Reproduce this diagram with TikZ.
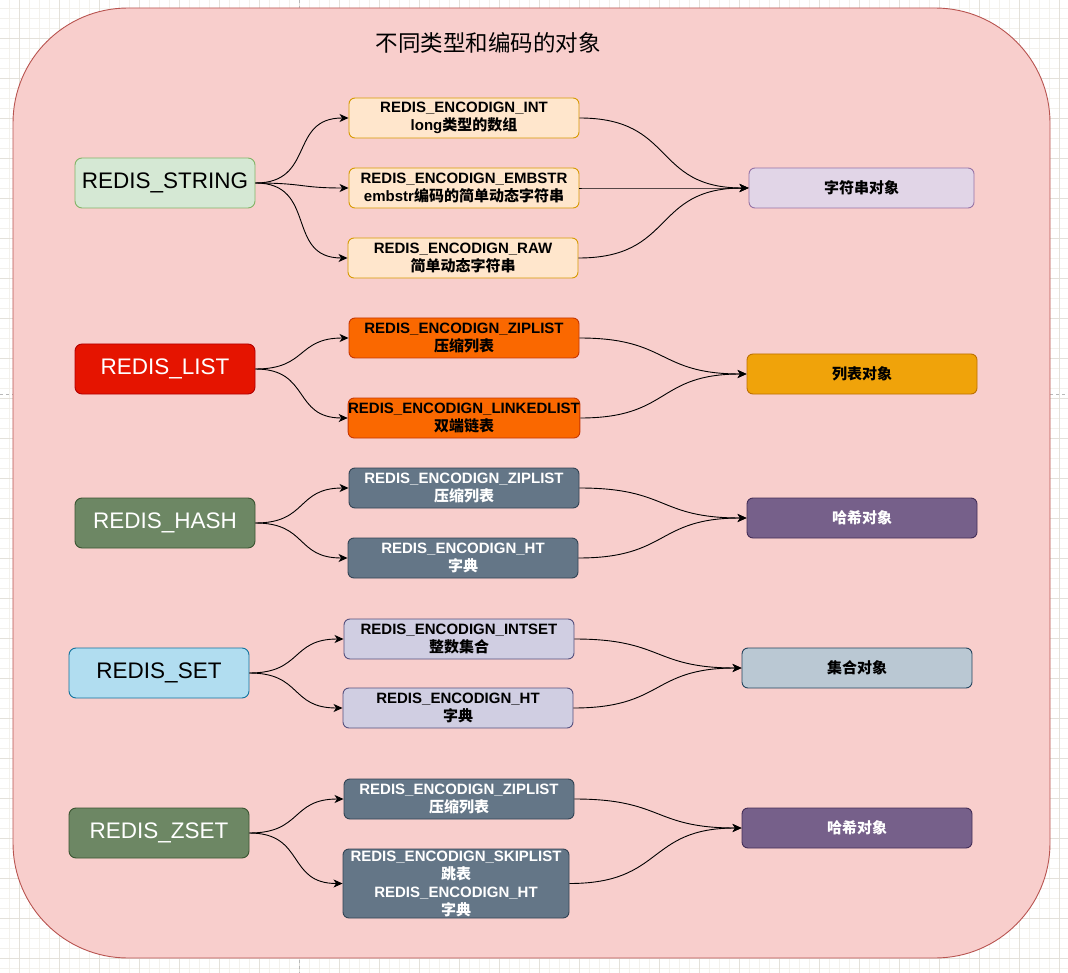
\documentclass[tikz,border=0pt]{standalone}
\usepackage{fontspec}
\setmainfont{Liberation Sans}
\newfontfamily\cjk{Noto Sans CJK SC}
\newcommand\zh[1]{{\cjk #1}}
\usetikzlibrary{arrows.meta}
\definecolor{gridminor}{HTML}{F3F1EC}
\definecolor{gridmajor}{HTML}{E4E1DA}
\definecolor{pagebrk}{HTML}{B8B8B8}
\definecolor{contfill}{HTML}{F8CECC}
\definecolor{contdraw}{HTML}{B85450}
\definecolor{grfill}{HTML}{D5E8D4}\definecolor{grdraw}{HTML}{82B366}
\definecolor{rdfill}{HTML}{E51400}\definecolor{rddraw}{HTML}{B20000}
\definecolor{olfill}{HTML}{6D8764}\definecolor{oldraw}{HTML}{3A5431}
\definecolor{blfill}{HTML}{B1DDF0}\definecolor{bldraw}{HTML}{10739E}
\definecolor{orfill}{HTML}{FFE6CC}\definecolor{ordraw}{HTML}{D79B00}
\definecolor{dofill}{HTML}{FA6800}\definecolor{dodraw}{HTML}{C73500}
\definecolor{slfill}{HTML}{647687}\definecolor{sldraw}{HTML}{314354}
\definecolor{lvfill}{HTML}{D0CEE2}\definecolor{lvdraw}{HTML}{56517E}
\definecolor{pufill}{HTML}{E1D5E7}\definecolor{pudraw}{HTML}{9673A6}
\definecolor{ambfill}{HTML}{F0A30A}\definecolor{ambdraw}{HTML}{BD7000}
\definecolor{vifill}{HTML}{76608A}\definecolor{vidraw}{HTML}{432D57}
\definecolor{gbfill}{HTML}{BAC8D3}\definecolor{gbdraw}{HTML}{23445D}
\begin{document}
\begin{tikzpicture}[x=1pt,y=-1pt,
  typebox/.style={draw, line width=0.9pt, rounded corners=7pt, minimum width=180pt, minimum height=50pt, inner sep=0pt, align=center, font=\fontsize{22.5}{27}\selectfont},
  encbox/.style={draw, line width=0.9pt, rounded corners=6pt, minimum width=230pt, minimum height=40pt, inner sep=0pt, align=center, font=\fontsize{15}{18}\selectfont\bfseries},
  objbox/.style={draw, line width=0.9pt, rounded corners=6pt, minimum width=230pt, minimum height=40pt, inner sep=0pt, align=center, font=\fontsize{15}{18}\selectfont\bfseries},
  edge/.style={draw=black, line width=0.9pt, -{Stealth[length=9pt,width=8pt,inset=2.5pt]}}
]
\useasboundingbox (0,0) rectangle (1068,973);
\fill[white] (0,0) rectangle (1068,973);
\foreach \gx in {9,19,...,1068} \draw[gridminor, line width=0.8pt] (\gx,0) -- (\gx,973);
\foreach \gy in {8,18,...,973} \draw[gridminor, line width=0.8pt] (0,\gy) -- (1068,\gy);
\foreach \gx in {19,59,...,1068} \draw[gridmajor, line width=0.8pt] (\gx,0) -- (\gx,973);
\foreach \gy in {38,78,...,973} \draw[gridmajor, line width=0.8pt] (0,\gy) -- (1068,\gy);
\draw[pagebrk, dashed, line width=0.8pt] (0,394) -- (1068,394);
\draw[pagebrk, dashed, line width=0.8pt] (299,0) -- (299,973);
% container
\draw[fill=contfill, draw=contdraw, line width=0.9pt, rounded corners=115pt] (13,8) rectangle (1050,958);
\node[font=\fontsize{22.5}{27}\selectfont\cjk, text=black] (title) at (488,43) {不同类型和编码的对象};
% left type boxes
\node[typebox, fill=grfill, draw=grdraw, text=black] (ls) at (165,183) {REDIS\_STRING};
\node[typebox, fill=rdfill, draw=rddraw, text=white] (ll) at (165,369) {REDIS\_LIST};
\node[typebox, fill=olfill, draw=oldraw, text=white] (lh) at (165,523) {REDIS\_HASH};
\node[typebox, fill=blfill, draw=bldraw, text=black] (lset) at (159,673) {REDIS\_SET};
\node[typebox, fill=olfill, draw=oldraw, text=white] (lz) at (159,833) {REDIS\_ZSET};
% encoding boxes
\node[encbox, fill=orfill, draw=ordraw, text=black] (m1) at (464,118) {REDIS\_ENCODIGN\_INT\\long\zh{类型的数组}};
\node[encbox, fill=orfill, draw=ordraw, text=black] (m2) at (464,188) {REDIS\_ENCODIGN\_EMBSTR\\embstr\zh{编码的简单动态字符串}};
\node[encbox, fill=orfill, draw=ordraw, text=black] (m3) at (463,258) {REDIS\_ENCODIGN\_RAW\\\zh{简单动态字符串}};
\node[encbox, fill=dofill, draw=dodraw, text=black] (m4) at (464,338) {REDIS\_ENCODIGN\_ZIPLIST\\\zh{压缩列表}};
\node[encbox, fill=dofill, draw=dodraw, text=black] (m5) at (464,418) {REDIS\_ENCODIGN\_LINKEDLIST\\\zh{双端链表}};
\node[encbox, fill=slfill, draw=sldraw, text=white] (m6) at (464,488) {REDIS\_ENCODIGN\_ZIPLIST\\\zh{压缩列表}};
\node[encbox, fill=slfill, draw=sldraw, text=white] (m7) at (463,558) {REDIS\_ENCODIGN\_HT\\\zh{字典}};
\node[encbox, fill=lvfill, draw=lvdraw, text=black] (m8) at (459,639) {REDIS\_ENCODIGN\_INTSET\\\zh{整数集合}};
\node[encbox, fill=lvfill, draw=lvdraw, text=black] (m9) at (458,708) {REDIS\_ENCODIGN\_HT\\\zh{字典}};
\node[encbox, fill=slfill, draw=sldraw, text=white] (m10) at (459,799) {REDIS\_ENCODIGN\_ZIPLIST\\\zh{压缩列表}};
\node[encbox, fill=slfill, draw=sldraw, text=white, minimum width=226pt, minimum height=69pt] (m11) at (456,883.5) {REDIS\_ENCODIGN\_SKIPLIST\\\zh{跳表}\\REDIS\_ENCODIGN\_HT\\\zh{字典}};
% object boxes
\node[objbox, fill=pufill, draw=pudraw, text=black, minimum width=225pt] (r1) at (861.5,188) {\zh{字符串对象}};
\node[objbox, fill=ambfill, draw=ambdraw, text=black] (r2) at (862,374) {\zh{列表对象}};
\node[objbox, fill=vifill, draw=vidraw, text=white] (r3) at (862,518) {\zh{哈希对象}};
\node[objbox, fill=gbfill, draw=gbdraw, text=black] (r4) at (857,668) {\zh{集合对象}};
\node[objbox, fill=vifill, draw=vidraw, text=white] (r5) at (857,828) {\zh{哈希对象}};
% edges type -> encoding
\foreach \a/\b in {ls/m1, ls/m2, ls/m3, ll/m4, ll/m5, lh/m6, lh/m7, lset/m8, lset/m9, lz/m10, lz/m11}
  \draw[edge] (\a.east) to[out=0, in=180, looseness=1.35] (\b.west);
% edges encoding -> object
\foreach \a/\b in {m1/r1, m2/r1, m3/r1, m4/r2, m5/r2, m6/r3, m7/r3, m8/r4, m9/r4, m10/r5, m11/r5}
  \draw[edge] (\a.east) to[out=0, in=180, looseness=1.35] (\b.west);
\end{tikzpicture}
\end{document}
